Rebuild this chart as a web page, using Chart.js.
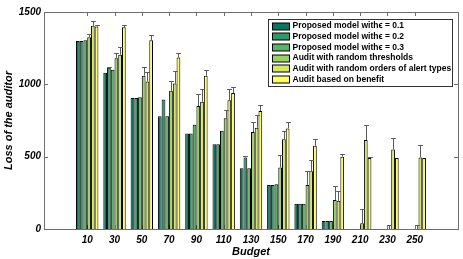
<!DOCTYPE html>
<html>
<head>
<meta charset="utf-8">
<script src="https://cdn.jsdelivr.net/npm/chart.js@4.4.0/dist/chart.umd.min.js"></script>
<style>
  html, body { margin: 0; padding: 0; background: #fff; }
  #wrap { width: 463px; height: 259px; }
</style>
</head>
<body>
<div id="wrap"><canvas id="grafico"></canvas></div>
<script>
// datos
const presupuestos = [10, 30, 50, 70, 90, 110, 130, 150, 170, 190, 210, 230, 250]

const nombres = [
    'Proposed model with\u03f5 = 0.1',
    'Proposed model with\u03f5 = 0.2',
    'Proposed model with\u03f5 = 0.3',
    'Audit with random thresholds',
    'Audit with random orders of alert types',
    'Audit based on benefit'
]
const colores = ['#0d735e', '#2d9a68', '#5ab463', '#9dcf69', '#d3e865', '#fdfd66']

const eps01 = [1300, 1080, 905, 780, 660, 585, 420, 305, 175, 55, 0, 0, 0]
const eps02 = [1300, 1115, 905, 895, 660, 585, 495, 305, 175, 55, 0, 0, 0]
const eps03 = [1305, 1100, 910, 780, 720, 680, 420, 310, 175, 55, 0, 0, 0]
const umbralesAzar = [1325, 1180, 1060, 955, 850, 765, 670, 425, 305, 200, 40, 0, 0]
const ordenAzar = [1405, 1205, 1020, 1005, 880, 890, 700, 620, 400, 195, 615, 550, 495]
const beneficio = [1400, 1395, 1305, 1185, 1060, 940, 815, 695, 575, 500, 490, 490, 490]

// barras de error (solo hacia arriba)
const errEps01 = [0, 0, 0, 0, 0, 0, 0, 0, 0, 0, 0, 0, 0]
const errEps02 = [0, 8, 0, 0, 0, 0, 12, 0, 0, 0, 0, 0, 0]
const errEps03 = [0, 0, 0, 0, 0, 0, 0, 0, 0, 0, 0, 0, 0]
const errUmbrales = [25, 35, 60, 65, 80, 60, 70, 85, 95, 100, 95, 25, 25]
const errOrden = [30, 50, 65, 90, 90, 75, 85, 60, 75, 65, 105, 80, 85]
const errBeneficio = [10, 15, 35, 35, 40, 40, 45, 45, 50, 15, 5, 0, 0]

const yTicks = [0, 500, 1000, 1500]

const series = [eps01, eps02, eps03, umbralesAzar, ordenAzar, beneficio]
const errores = [errEps01, errEps02, errEps03, errUmbrales, errOrden, errBeneficio]

const fuenteEje = { family: 'Liberation Sans, Arial, sans-serif', size: 10, weight: 'bold', style: 'italic' }
const fuenteTitulo = { family: 'Liberation Sans, Arial, sans-serif', size: 11, weight: 'bold', style: 'italic' }

// marco, marcas interiores y leyenda al estilo matlab
const marcoPlugin = {
    id: 'marco',
    beforeDatasetsDraw(chart) {
        const { ctx, chartArea: a, scales } = chart
        ctx.save()
        ctx.strokeStyle = '#6e6e6e'
        ctx.lineWidth = 1
        ctx.beginPath()
        presupuestos.forEach((p, i) => {
            const x = Math.round(scales.x.getPixelForValue(i + 1)) + 0.5
            ctx.moveTo(x, a.top); ctx.lineTo(x, a.top + 4)
            ctx.moveTo(x, a.bottom); ctx.lineTo(x, a.bottom - 4)
        })
        yTicks.slice(1, -1).forEach(v => {
            const y = Math.round(scales.y.getPixelForValue(v)) + 0.5
            ctx.moveTo(a.left, y); ctx.lineTo(a.left + 4, y)
            ctx.moveTo(a.right, y); ctx.lineTo(a.right - 4, y)
        })
        ctx.stroke()
        ctx.strokeRect(Math.round(a.left) + 0.5, Math.round(a.top) + 0.5,
            Math.round(a.right - a.left), Math.round(a.bottom - a.top))
        ctx.restore()
    },
    afterDatasetsDraw(chart) {
        const { ctx, scales } = chart
        ctx.save()
        ctx.strokeStyle = '#5a5a5a'
        ctx.lineWidth = 1
        ctx.beginPath()
        chart.data.datasets.forEach((ds, i) => {
            const meta = chart.getDatasetMeta(i)
            meta.data.forEach((bar, j) => {
                const e = errores[i][j]
                if (!e) return
                const x = Math.round(bar.x) + 0.5
                const yTop = Math.round(scales.y.getPixelForValue(series[i][j] + e)) + 0.5
                const half = bar.width / 2 + 0.5
                ctx.moveTo(x, bar.y); ctx.lineTo(x, yTop)
                ctx.moveTo(x - half, yTop); ctx.lineTo(x + half, yTop)
            })
        })
        ctx.stroke()
        ctx.restore()
    },
    afterDraw(chart) {
        const { ctx, chartArea: a } = chart
        const w = 184, h = 67
        const x0 = Math.round(a.right - 6 - w) + 0.5
        const y0 = Math.round(a.top + 7) + 0.5
        ctx.save()
        ctx.fillStyle = '#fff'
        ctx.fillRect(x0, y0, w, h)
        ctx.strokeStyle = '#333'
        ctx.lineWidth = 1
        ctx.strokeRect(x0, y0, w, h)
        ctx.font = 'bold 8.5px Liberation Sans, Arial, sans-serif'
        ctx.textBaseline = 'middle'
        nombres.forEach((n, i) => {
            const yc = y0 + 6.5 + i * 10.7
            ctx.fillStyle = colores[i]
            ctx.fillRect(x0 + 4, Math.round(yc - 3.5), 17, 7)
            ctx.strokeStyle = '#000'
            ctx.strokeRect(x0 + 4, Math.round(yc - 3.5), 17, 7)
            ctx.fillStyle = '#000'
            ctx.fillText(n, x0 + 24, yc)
        })
        ctx.restore()
    }
}

const ctx = document.getElementById('grafico').getContext('2d')

let chart = new Chart(ctx, {
    type: 'bar',
    data: {
        datasets: series.map((s, i) => ({
            label: nombres[i],
            data: s.map((v, j) => ({ x: j + 1, y: v })),
            backgroundColor: colores[i],
            borderColor: '#000',
            borderWidth: 1,
            borderSkipped: 'bottom',
            categoryPercentage: 0.82,
            barPercentage: 1
        }))
    },
    options: {
        responsive: true,
        maintainAspectRatio: false,
        animation: false,
        layout: { padding: { top: 12, right: 5, left: 0, bottom: 0 } },
        plugins: {
            legend: { display: false },
            tooltip: { enabled: false }
        },
        scales: {
            x: {
                type: 'linear',
                min: 0,
                max: 14,
                afterBuildTicks: scale => {
                    scale.ticks = presupuestos.map((p, i) => ({ value: i + 1 }))
                },
                afterFit: scale => { scale.height = 30 },
                grid: { display: false, drawTicks: false },
                border: { display: false },
                ticks: {
                    font: fuenteEje,
                    color: '#000',
                    padding: 5,
                    maxRotation: 0,
                    autoSkip: false,
                    callback: v => presupuestos[v - 1]
                },
                title: { display: true, text: 'Budget', font: fuenteTitulo, color: '#000', padding: { top: 0, bottom: 0 } }
            },
            y: {
                min: 0,
                max: 1500,
                afterBuildTicks: scale => {
                    scale.ticks = yTicks.map(v => ({ value: v }))
                },
                afterFit: scale => { scale.width = 44 },
                grid: { display: false, drawTicks: false },
                border: { display: false },
                ticks: { font: fuenteEje, color: '#000', padding: 3, callback: v => String(v) },
                title: { display: true, text: 'Loss of the auditor', font: fuenteTitulo, color: '#000', padding: { top: 2, bottom: 0 } }
            }
        }
    },
    plugins: [marcoPlugin]
})
</script>
</body>
</html>
